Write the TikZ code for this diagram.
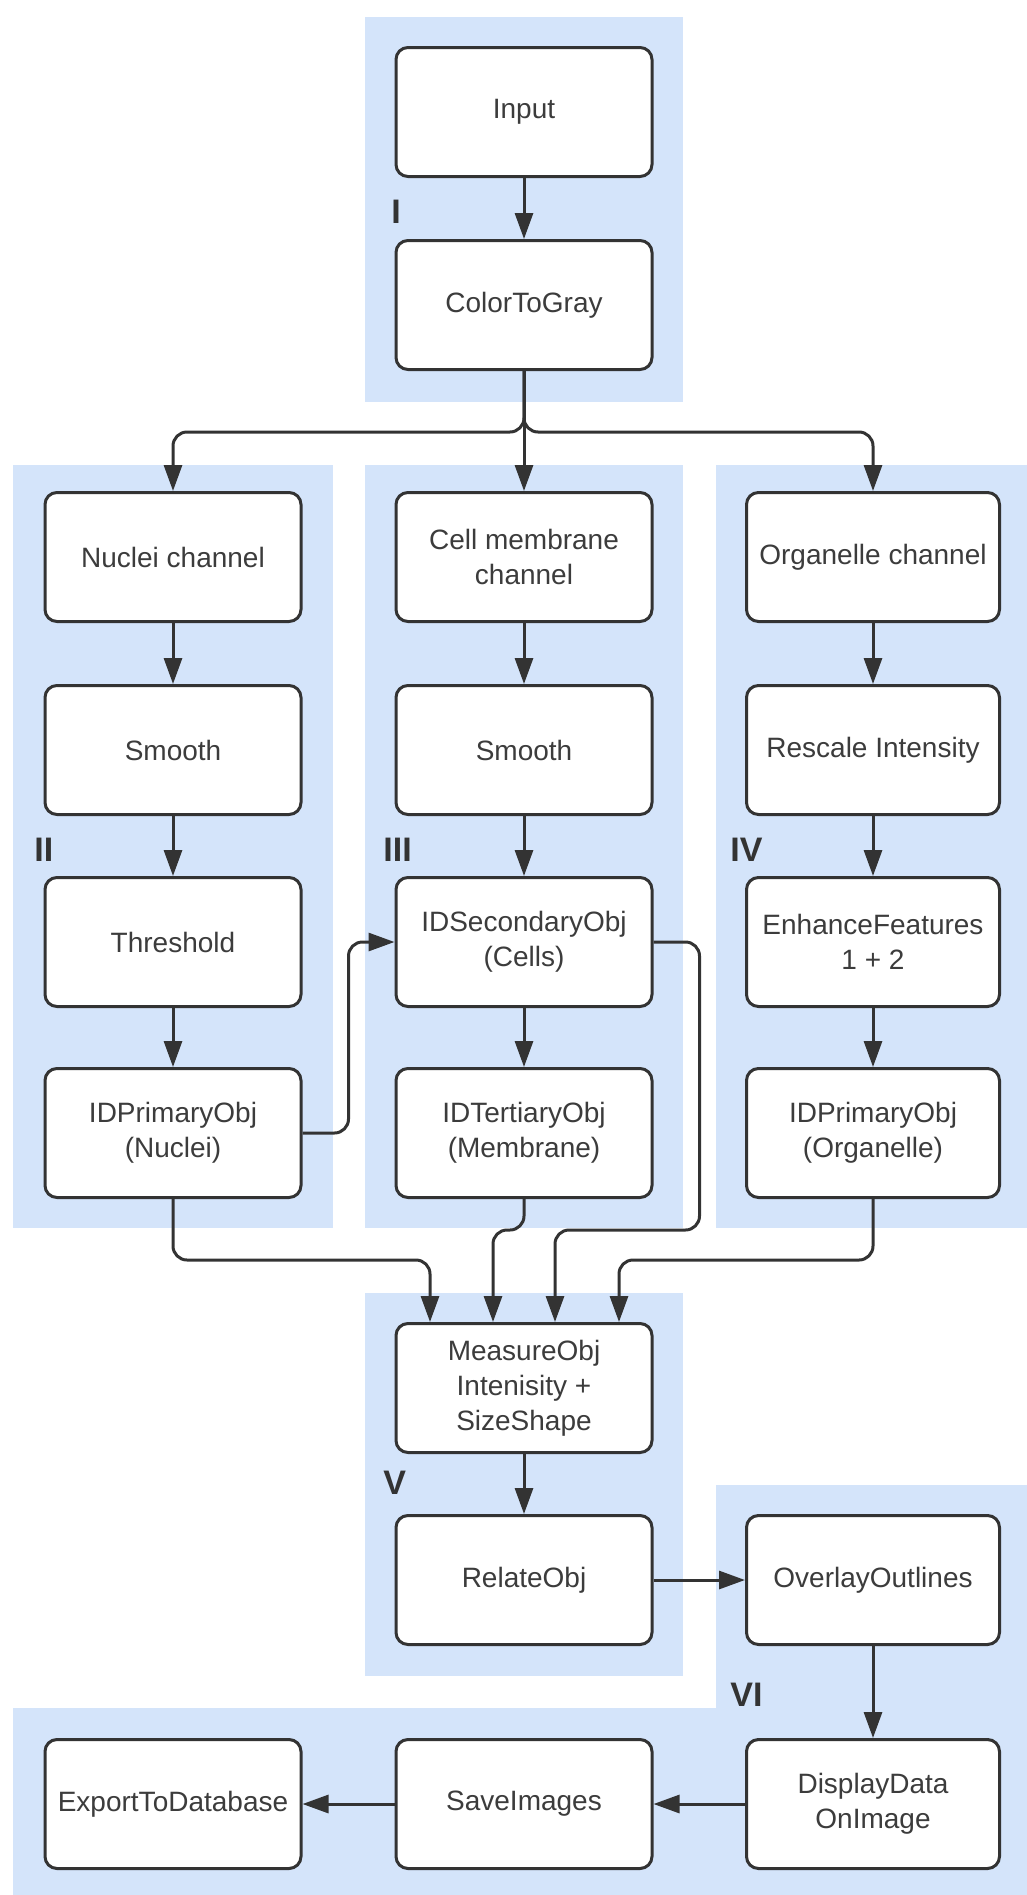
\documentclass[tikz,border=0pt]{standalone}
\usepackage{fontspec}
\setmainfont{Liberation Sans}
\usetikzlibrary{arrows.meta,calc}
\definecolor{panelblue}{HTML}{D4E4FA}
\definecolor{linegray}{HTML}{333333}
\definecolor{textgray}{HTML}{3C3C3C}
\begin{document}
\begin{tikzpicture}[x=0.5pt,y=-0.5pt,
  box/.style={draw=linegray, line width=1.5pt, fill=white, rounded corners=6pt,
    minimum width=128pt, minimum height=64.5pt, inner sep=2pt, align=center,
    text=textgray, font=\fontsize{14}{17.5}\selectfont},
  boxn/.style={box, minimum width=126.5pt},
  arr/.style={draw=linegray, line width=1.5pt, rounded corners=7pt,
    -{Triangle[length=13pt,width=9pt]}},
  panel/.style={fill=panelblue, draw=none},
  lab/.style={anchor=west, inner sep=0pt, text=linegray,
    font=\fontsize{17}{20}\selectfont\bfseries}]
\useasboundingbox (0,0) rectangle (1027,1895);
\fill[white] (0,0) rectangle (1027,1895);
% panels
\path[panel] (365,17) rectangle (683,402);
\path[panel] (13,465) rectangle (333,1228);
\path[panel] (365,465) rectangle (683,1228);
\path[panel] (716,465) rectangle (1027,1228);
\path[panel] (365,1293) rectangle (683,1676);
\path[panel] (716,1485) -- (1027,1485) -- (1027,1895) -- (13,1895) -- (13,1708) -- (716,1708) -- cycle;
% labels
\node[lab] (lI) at (391,212) {I};
\node[lab] (lII) at (34,850) {II};
\node[lab] (lIII) at (383,850) {III};
\node[lab] (lIV) at (730,850) {IV};
\node[lab] (lV) at (383,1483) {V};
\node[lab] (lVI) at (730,1695) {VI};
% boxes
\node[box] (in) at (524,112) {Input};
\node[box] (c2g) at (524,305) {ColorToGray};
\node[box] (nuc) at (173,557) {Nuclei channel};
\node[box] (cell) at (524,557) {Cell membrane\\channel};
\node[boxn] (org) at (873,557) {Organelle channel};
\node[box] (sm1) at (173,750) {Smooth};
\node[box] (sm2) at (524,750) {Smooth};
\node[boxn] (resc) at (873,750) {Rescale Intensity};
\node[box] (thr) at (173,942) {Threshold};
\node[box] (sec) at (524,942) {IDSecondaryObj\\(Cells)};
\node[boxn] (enh) at (873,942) {EnhanceFeatures\\1 + 2};
\node[box] (p1) at (173,1133) {IDPrimaryObj\\(Nuclei)};
\node[box] (ter) at (524,1133) {IDTertiaryObj\\(Membrane)};
\node[boxn] (p2) at (873,1133) {IDPrimaryObj\\(Organelle)};
\node[box] (meas) at (524,1388) {MeasureObj\\Intenisity +\\SizeShape};
\node[box] (rel) at (524,1580) {RelateObj};
\node[boxn] (ov) at (873,1580) {OverlayOutlines};
\node[boxn] (disp) at (873,1804) {DisplayData\\OnImage};
\node[box] (save) at (524,1804) {SaveImages};
\node[box] (exp) at (173,1804) {ExportToDatabase};
% helper coordinates
\coordinate (split) at (524,432);
\coordinate (h1) at (0,1230);
\coordinate (h2) at (0,1260);
\coordinate (m1) at ($(meas.north)+(-94,0)$);
\coordinate (m2) at ($(meas.north)+(-31,0)$);
\coordinate (m3) at ($(meas.north)+(31,0)$);
\coordinate (m4) at ($(meas.north)+(95,0)$);
% connectors
\draw[arr] (in) -- (c2g);
\draw[arr] (c2g.south) -- (split) -| (nuc.north);
\draw[arr] (c2g.south) -- (split) -| (org.north);
\draw[arr] (c2g.south) -- (cell.north);
\draw[arr] (nuc) -- (sm1);
\draw[arr] (sm1) -- (thr);
\draw[arr] (thr) -- (p1);
\draw[arr] (cell) -- (sm2);
\draw[arr] (sm2) -- (sec);
\draw[arr] (sec) -- (ter);
\draw[arr] (org) -- (resc);
\draw[arr] (resc) -- (enh);
\draw[arr] (enh) -- (p2);
\draw[arr] (p1.east) -- ++(46,0) |- (sec.west);
\draw[arr] (p1.south) -- (p1.south |- h2) -| (m1);
\draw[arr] (ter.south) -- (ter.south |- h1) -| (m2);
\draw[arr] (sec.east) -- ++(46,0) |- (m3 |- h1) -- (m3);
\draw[arr] (p2.south) -- (p2.south |- h2) -| (m4);
\draw[arr] (meas) -- (rel);
\draw[arr] (rel) -- (ov);
\draw[arr] (ov) -- (disp);
\draw[arr] (disp) -- (save);
\draw[arr] (save) -- (exp);
\end{tikzpicture}
\end{document}
